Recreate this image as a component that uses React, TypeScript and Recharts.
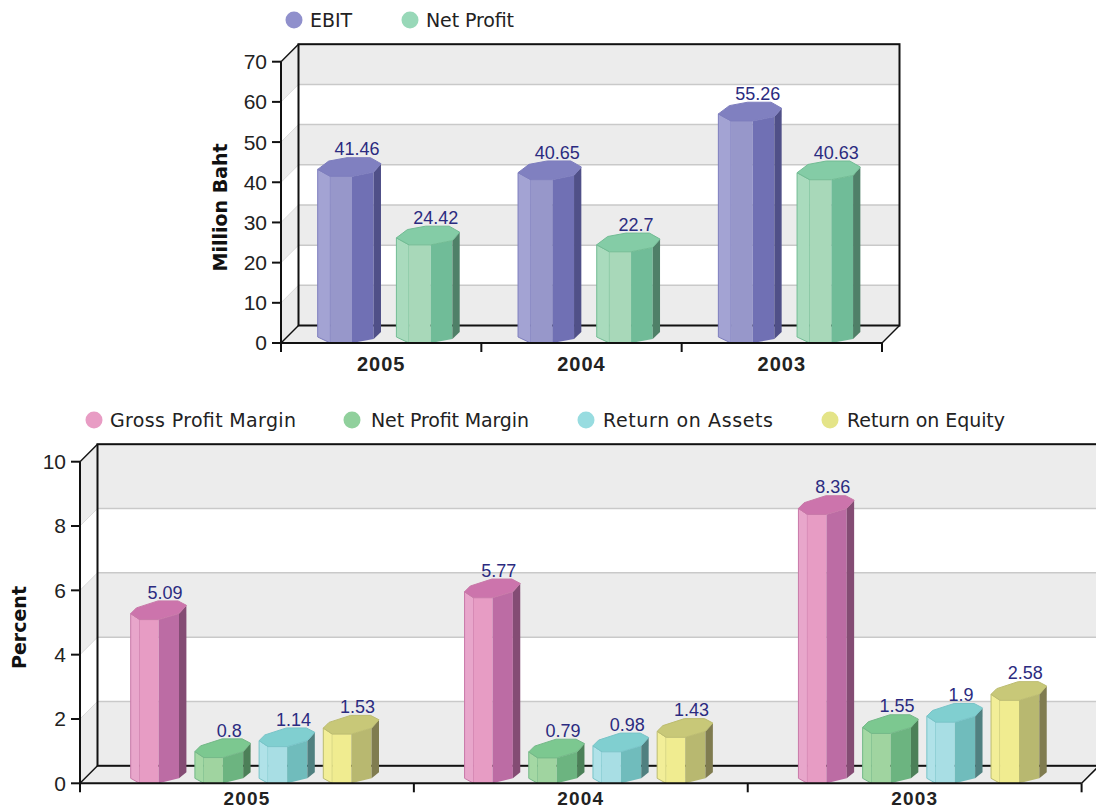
import { BarChart, Bar, XAxis, YAxis, LabelList } from "recharts";

// Financial figures per year
const years = ["2005", "2004", "2003"];
const ebit = [41.46, 40.65, 55.26];
const netProfit = [24.42, 22.7, 40.63];
const grossProfitMargin = [5.09, 5.77, 8.36];
const netProfitMargin = [0.8, 0.79, 1.55];
const returnOnAssets = [1.14, 0.98, 1.9];
const returnOnEquity = [1.53, 1.43, 2.58];
const bahtTicks = [0, 10, 20, 30, 40, 50, 60, 70];
const percentTicks = [0, 2, 4, 6, 8, 10];

const bahtRows = years.map((year, i) => ({ year, ebit: ebit[i], netProfit: netProfit[i] }));
const percentRows = years.map((year, i) => ({
  year,
  gross: grossProfitMargin[i],
  net: netProfitMargin[i],
  roa: returnOnAssets[i],
  roe: returnOnEquity[i],
}));

const SANS = "'DejaVu Sans', sans-serif";
const ARIAL = "'Liberation Sans', Arial, sans-serif";
const DEPTH = 17.5;
const GREY = "#ececec";

const PALETTE = {
  ebit: { left: "#a3a3d3", mid: "#9797ca", right: "#7070b4", side: "#505088", top: "#8080c0", edge: "#7e7ebe", key: "#9090cc" },
  netProfit: { left: "#a9dbbd", mid: "#a8d8b9", right: "#70bc98", side: "#4f8068", top: "#84cca6", edge: "#72bc94", key: "#98d8b8" },
  gross: { left: "#e8a6cb", mid: "#e79cc4", right: "#bc6ca4", side: "#844c74", top: "#cc74ac", edge: "#c878a8", key: "#e89cc4" },
  net: { left: "#a4d8a4", mid: "#a0d4a0", right: "#6cb480", side: "#4c8058", top: "#7cc890", edge: "#74b888", key: "#90d09c" },
  roa: { left: "#b0e2e8", mid: "#a8dee4", right: "#70bcbc", side: "#508080", top: "#80cfd0", edge: "#78c4c8", key: "#98dce0" },
  roe: { left: "#f2ee98", mid: "#f0ec90", right: "#b8b870", side: "#807c50", top: "#c8c878", edge: "#bcbc70", key: "#e4e488" },
};

type Tone = typeof PALETTE.ebit;
type Pt = [number, number];

// outline of the octagonal prism, relative to the front-left corner of the face
interface Profile {
  top: Pt[]; // left, front-left, front-right, right, far-right
  back: Pt[]; // remaining corners of the lid
  bottom: Pt[];
  dx: number;
}

const WIDE: Profile = {
  top: [[0, -7], [12.7, 0], [34.3, 0], [56, -4.3], [63.3, -12.7]],
  back: [[52.7, -18.7], [29.3, -18.7], [11, -15.3]],
  bottom: [[0, -6], [12.7, 0], [34.3, 0], [56, -4], [63.3, -11]],
  dx: 7.7,
};

const NARROW: Profile = {
  top: [[0, -6], [9, 0], [28, 0], [48.3, -6], [55.7, -14.3]],
  back: [[47.3, -18.7], [27.3, -18.7], [5.7, -11.7]],
  bottom: [[0, -5], [9, 0], [28, 0], [48.3, -5], [55.7, -11]],
  dx: 7.7,
};

function prismShape(tone: Tone, profile: Profile) {
  return function PrismBar(props: any) {
    const { x, y, height } = props;
    const left = x + profile.dx;
    const floor = y + height;
    const at = (p: Pt, base: number) => `${left + p[0]},${base + p[1]}`;
    const face = (i: number) =>
      [at(profile.top[i], y), at(profile.top[i + 1], y), at(profile.bottom[i + 1], floor), at(profile.bottom[i], floor)].join(" ");
    const lid = [...profile.top, ...profile.back].map((p) => at(p, y)).join(" ");
    return (
      <g>
        <polygon points={face(0)} fill={tone.left} stroke={tone.edge} strokeWidth={1} />
        <polygon points={face(1)} fill={tone.mid} />
        <polygon points={face(2)} fill={tone.right} />
        <polygon points={face(3)} fill={tone.side} />
        <polygon points={lid} fill={tone.top} stroke={tone.edge} strokeWidth={1} />
      </g>
    );
  };
}

function valueLabel(offset: number) {
  return function ValueLabel(props: any) {
    const { x, y, value } = props;
    return (
      <text x={x + offset} y={y - 21} textAnchor="middle" fontFamily={ARIAL} fontSize={18} fill="#2b2b80">
        {value}
      </text>
    );
  };
}

// back wall, side wall and floor of the 3D box, plus the ticks between categories
function Box({ left, top, width, height, ticks, count }: any) {
  const max = ticks[ticks.length - 1];
  const yOf = (t: number) => top + height * (1 - t / max);
  const bottom = top + height;
  const right = left + width;
  const bands = ticks.slice(0, -1).map((t: number, i: number) => ({ from: t, to: ticks[i + 1], shaded: (ticks.length - 2 - i) % 2 === 0 }));
  return (
    <g>
      {bands.map((b: any) =>
        b.shaded ? (
          <g key={b.from}>
            <rect x={left + DEPTH} y={yOf(b.to) - DEPTH} width={width} height={yOf(b.from) - yOf(b.to)} fill={GREY} />
            <polygon
              points={`${left},${yOf(b.to)} ${left + DEPTH},${yOf(b.to) - DEPTH} ${left + DEPTH},${yOf(b.from) - DEPTH} ${left},${yOf(b.from)}`}
              fill={GREY}
            />
          </g>
        ) : null
      )}
      <polygon
        points={`${left},${bottom} ${left + DEPTH},${bottom - DEPTH} ${right + DEPTH},${bottom - DEPTH} ${right},${bottom}`}
        fill={GREY}
      />
      {ticks.slice(1, -1).map((t: number) => (
        <g key={t}>
          <line x1={left + DEPTH} x2={right + DEPTH} y1={yOf(t) - DEPTH} y2={yOf(t) - DEPTH} stroke="#c9c9c9" strokeWidth={1.5} />
          <line x1={left} x2={left + DEPTH} y1={yOf(t)} y2={yOf(t) - DEPTH} stroke="#dcdcdc" strokeWidth={1} />
        </g>
      ))}
      <rect x={left + DEPTH} y={top - DEPTH} width={width} height={height} fill="none" stroke="#111" strokeWidth={2} />
      <line x1={left} y1={top} x2={left + DEPTH} y2={top - DEPTH} stroke="#111" strokeWidth={1.5} />
      <line x1={left} y1={bottom} x2={left + DEPTH} y2={bottom - DEPTH} stroke="#111" strokeWidth={1.5} />
      <line x1={right} y1={bottom} x2={right + DEPTH} y2={bottom - DEPTH} stroke="#111" strokeWidth={1.5} />
      {Array.from({ length: count + 1 }, (_, i) => (
        <line key={i} x1={left + (width * i) / count} x2={left + (width * i) / count} y1={bottom} y2={bottom + 9} stroke="#111" strokeWidth={2} />
      ))}
    </g>
  );
}

function KeyRow({ items, y }: { items: { name: string; x: number; textX: number; span: number; color: string }[]; y: number }) {
  return (
    <g>
      {items.map((item) => (
        <g key={item.name}>
          <circle cx={item.x} cy={y} r={8.5} fill={item.color} />
          <text x={item.textX} y={y + 6.5} fontFamily={SANS} fontSize={19} fill="#222" textLength={item.span} lengthAdjust="spacing">
            {item.name}
          </text>
        </g>
      ))}
    </g>
  );
}

const axisLine = { stroke: "#111", strokeWidth: 2 };
const valueTick = { fontFamily: ARIAL, fontSize: 21, fill: "#222" };
const yearTick = { fontFamily: ARIAL, fontSize: 20, fontWeight: "bold", fill: "#222", letterSpacing: 1 };
const lowerYearTick = { fontFamily: ARIAL, fontSize: 19, fontWeight: "bold", fill: "#222", letterSpacing: 1.2 };
const titleStyle = { textAnchor: "middle", fontFamily: SANS, fontSize: 19, fontWeight: "bold", fill: "#111" };

export default function App() {
  return (
    <div style={{ position: "absolute", left: 0, top: 0, width: 1096, height: 808, background: "#fff", overflow: "hidden" }}>
      <div style={{ position: "absolute", left: 0, top: 0 }}>
        <BarChart width={1096} height={380} data={bahtRows} barSize={63} barGap={15.7} margin={{ top: 61.7, right: 214, bottom: 0, left: 0 }}>
          <Box left={281} top={61.7} width={601} height={281.3} ticks={bahtTicks} count={years.length} />
          <KeyRow
            y={20}
            items={[
              { name: "EBIT", x: 294, textX: 310, span: 42, color: PALETTE.ebit.key },
              { name: "Net Profit", x: 410, textX: 426, span: 88, color: PALETTE.netProfit.key },
            ]}
          />
          <XAxis dataKey="year" interval={0} height={37} tickLine={false} axisLine={axisLine} tick={yearTick} tickMargin={8} />
          <YAxis
            type="number"
            domain={[0, 70]}
            ticks={bahtTicks}
            width={281}
            tickSize={9}
            tickMargin={5}
            axisLine={axisLine}
            tickLine={axisLine}
            tick={valueTick}
            label={{ value: "Million Baht", angle: -90, position: "insideLeft", offset: 220, dy: 5, style: titleStyle }}
          />
          <Bar dataKey="ebit" isAnimationActive={false} shape={prismShape(PALETTE.ebit, WIDE)}>
            <LabelList dataKey="ebit" content={valueLabel(47)} />
          </Bar>
          <Bar dataKey="netProfit" isAnimationActive={false} shape={prismShape(PALETTE.netProfit, WIDE)}>
            <LabelList dataKey="netProfit" content={valueLabel(47)} />
          </Bar>
        </BarChart>
      </div>
      <div style={{ position: "absolute", left: 0, top: 380 }}>
        <BarChart width={1096} height={428} data={percentRows} barSize={56} barGap={8.2} margin={{ top: 81.7, right: 14.4, bottom: 0, left: 0 }}>
          <Box left={80} top={81.7} width={1001.6} height={321.6} ticks={percentTicks} count={years.length} />
          <KeyRow
            y={40}
            items={[
              { name: "Gross Profit Margin", x: 94, textX: 110, span: 186, color: PALETTE.gross.key },
              { name: "Net Profit Margin", x: 352, textX: 371, span: 158, color: PALETTE.net.key },
              { name: "Return on Assets", x: 586, textX: 603, span: 170, color: PALETTE.roa.key },
              { name: "Return on Equity", x: 830, textX: 847, span: 158, color: PALETTE.roe.key },
            ]}
          />
          <XAxis dataKey="year" interval={0} height={24.7} tickLine={false} axisLine={axisLine} tick={lowerYearTick} tickMargin={2} />
          <YAxis
            type="number"
            domain={[0, 10]}
            ticks={percentTicks}
            width={80}
            tickSize={9}
            tickMargin={5}
            axisLine={axisLine}
            tickLine={axisLine}
            tick={valueTick}
            label={{ value: "Percent", angle: -90, position: "insideLeft", offset: 19, dy: 5, style: titleStyle }}
          />
          <Bar dataKey="gross" isAnimationActive={false} shape={prismShape(PALETTE.gross, NARROW)}>
            <LabelList dataKey="gross" content={valueLabel(42)} />
          </Bar>
          <Bar dataKey="net" isAnimationActive={false} shape={prismShape(PALETTE.net, NARROW)}>
            <LabelList dataKey="net" content={valueLabel(42)} />
          </Bar>
          <Bar dataKey="roa" isAnimationActive={false} shape={prismShape(PALETTE.roa, NARROW)}>
            <LabelList dataKey="roa" content={valueLabel(42)} />
          </Bar>
          <Bar dataKey="roe" isAnimationActive={false} shape={prismShape(PALETTE.roe, NARROW)}>
            <LabelList dataKey="roe" content={valueLabel(42)} />
          </Bar>
        </BarChart>
      </div>
    </div>
  );
}
